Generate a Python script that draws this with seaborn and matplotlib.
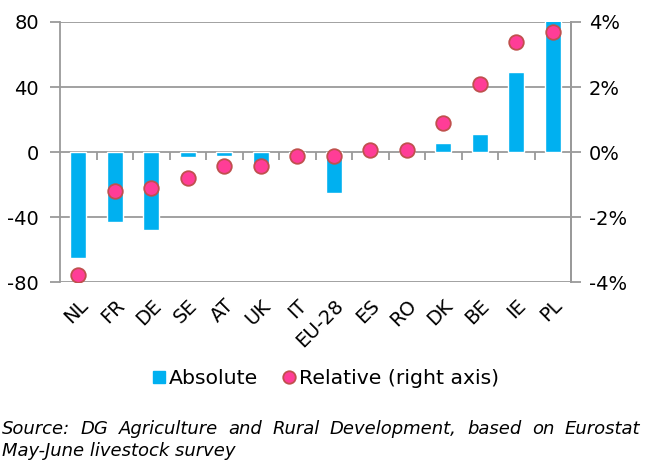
import numpy as np
import matplotlib
matplotlib.use("Agg")
import matplotlib.pyplot as plt
from matplotlib.lines import Line2D
from matplotlib.ticker import PercentFormatter
import seaborn as sns

# data
countries = ["NL", "FR", "DE", "SE", "AT", "UK", "IT", "EU-28", "ES", "RO", "DK", "BE", "IE", "PL"]
absolute = [-65, -43, -48, -3, -2.5, -8, -2, -25.5, 0.3, 0.3, 5.5, 11.3, 49, 82]
relative = [-3.79, -1.19, -1.11, -0.80, -0.42, -0.42, -0.13, -0.12, 0.05, 0.07, 0.89, 2.09, 3.38, 3.69]
left_ticks = [-80, -40, 0, 40, 80]
right_ticks = [-4, -2, 0, 2, 4]
source_lines = ["Source: DG Agriculture and Rural Development, based on Eurostat",
                "May-June livestock survey"]

BAR = "#00B0F0"
DOT = "#FF3D97"
DOT_EDGE = "#C0504D"
GRID = "#9A9A9A"

sns.set_style("white")
plt.rcParams["font.family"] = ["DejaVu Sans"]
plt.rcParams["axes.unicode_minus"] = False
plt.rcParams["text.color"] = "black"
plt.rcParams["xtick.labelcolor"] = "black"
plt.rcParams["ytick.labelcolor"] = "black"

fig = plt.figure(figsize=(6.55, 4.65), dpi=100)
ax = fig.add_axes([0.0916, 0.3935, 0.7802, 0.5592])

sns.barplot(x=countries, y=absolute, color=BAR, width=0.45, saturation=1, ax=ax, zorder=2)
ax.set_ylim(-80, 80)
ax.set_xlim(-0.5, len(countries) - 0.5)
ax.set_yticks(left_ticks)
ax.set_yticklabels([str(t) for t in left_ticks])
ax.grid(axis="y", color=GRID, linewidth=1.3, zorder=0)
ax.set_axisbelow(True)
ax.set_xlabel("")
ax.set_ylabel("")
for s in ["top", "bottom"]:
    ax.spines[s].set_visible(False)
for s in ["left", "right"]:
    ax.spines[s].set_color(GRID)
    ax.spines[s].set_linewidth(1.3)
ax.tick_params(axis="y", length=7, width=1.3, color=GRID, labelsize=14, pad=8)
ax.tick_params(axis="x", length=0, labelsize=14, pad=10)
plt.setp(ax.get_xticklabels(), rotation=45, ha="right", rotation_mode="anchor")

# category separators hanging below the zero line
sec = ax.secondary_xaxis(0.5)
sec.set_xticks(np.arange(len(countries) - 1) + 0.5)
sec.set_xticklabels([])
sec.tick_params(axis="x", which="both", direction="out", length=6, width=1.3, color=GRID,
                bottom=True, top=False, labelbottom=False, labeltop=False)
sec.xaxis.set_ticks_position("bottom")
for s in sec.spines.values():
    s.set_visible(False)

ax2 = ax.twinx()
sns.scatterplot(x=np.arange(len(countries)), y=relative, ax=ax2, s=110,
                color=DOT, edgecolor=DOT_EDGE, linewidth=1.3, zorder=3)
ax2.set_ylim(-4, 4)
ax2.set_yticks(right_ticks)
ax2.yaxis.set_major_formatter(PercentFormatter(decimals=0))
ax2.tick_params(axis="y", length=7, width=1.3, color=GRID, labelsize=14, pad=6)
for s in ["top", "bottom", "left"]:
    ax2.spines[s].set_visible(False)
ax2.spines["right"].set_color(GRID)
ax2.spines["right"].set_linewidth(1.3)
ax2.set_ylabel("")

handles = [
    Line2D([], [], marker="s", linestyle="none", markersize=9, color=BAR),
    Line2D([], [], marker="o", linestyle="none", markersize=9,
           markerfacecolor=DOT, markeredgecolor=DOT_EDGE, markeredgewidth=1.3),
]
fig.legend(handles, ["Absolute", "Relative (right axis)"], loc="center",
           bbox_to_anchor=(0.494, 0.185), ncol=2, frameon=False, fontsize=14.7,
           handletextpad=0.0, columnspacing=1.0, handlelength=1.0)

# source note, first line justified across the width
renderer = fig.canvas.get_renderer()
x0, x1 = 2 / 655, 640 / 655
words = source_lines[0].split()
texts = [fig.text(0, 0.067, w, fontsize=13, style="italic", ha="left", va="baseline")
         for w in words]
widths = [t.get_window_extent(renderer).width / fig.bbox.width for t in texts]
gap = (x1 - x0 - sum(widths)) / (len(words) - 1)
pos = x0
for t, w in zip(texts, widths):
    t.set_x(pos)
    pos += w + gap
fig.text(x0, 0.020, source_lines[1], fontsize=13, style="italic", ha="left", va="baseline")

fig.savefig("out.png", dpi=100)
